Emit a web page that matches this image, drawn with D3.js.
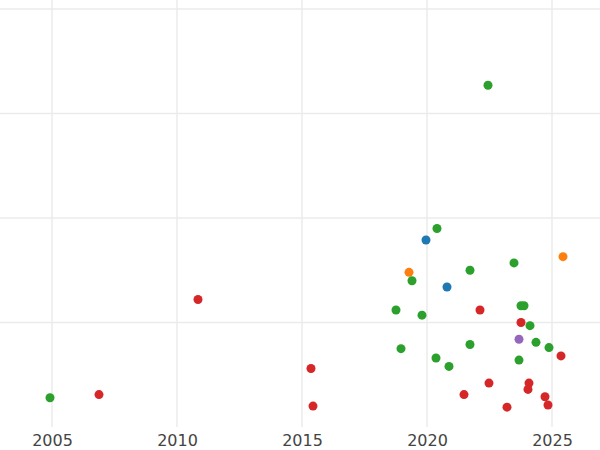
<!DOCTYPE html>
<html><head><meta charset="utf-8">
<script src="https://cdn.jsdelivr.net/npm/d3@7"></script>
<style>body{margin:0;background:#fff}</style></head>
<body><svg id="c" width="600" height="450"></svg>
<script>
const years = [2004.92,2006.88,2010.84,2015.36,2015.44,2018.76,2018.96,2019.28,2019.4,2019.8,2019.96,2020.4,2020.36,2020.8,2020.88,2021.72,2021.72,2021.48,2022.12,2022.44,2022.48,2023.2,2023.48,2023.76,2023.88,2023.76,2023.68,2023.68,2024.12,2024.08,2024.04,2024.36,2024.72,2024.84,2024.88,2025.44,2025.36];
const values = [0.28,0.31,1.22,0.56,0.20,1.12,0.75,1.48,1.40,1.07,1.79,1.90,0.66,1.34,0.58,1.50,0.79,0.31,1.12,3.27,0.42,0.19,1.57,1.16,1.16,1.00,0.84,0.64,0.97,0.42,0.36,0.81,0.29,0.21,0.76,1.63,0.68];
const groups = ["g","r","r","r","r","g","g","o","g","g","b","g","g","b","g","g","g","r","r","g","r","r","g","g","g","r","p","g","g","r","r","g","r","r","g","o","r"];
const xTicks = [2005,2010,2015,2020,2025];
const yGrid = [1,2,3,4];
const palette = {b:"#1f77b4",o:"#ff7f0e",g:"#2ca02c",r:"#d62728",p:"#9467bd"};

const svg = d3.select("#c");
const x = d3.scaleLinear().domain([2002.92,2026.92]).range([0,600]);
const y = d3.scaleLinear().domain([0,4]).range([427,9]);

svg.append("g").selectAll("line").data(yGrid).join("line")
  .attr("x1",0).attr("x2",600).attr("y1",d=>y(d)).attr("y2",d=>y(d))
  .attr("stroke","#ebebeb").attr("stroke-width",1.5);
svg.append("g").selectAll("line").data(xTicks).join("line")
  .attr("x1",d=>x(d)).attr("x2",d=>x(d)).attr("y1",0).attr("y2",427)
  .attr("stroke","#ebebeb").attr("stroke-width",1.5);

const ax = svg.append("g").attr("transform","translate(0,427)")
  .call(d3.axisBottom(x).tickValues(xTicks).tickFormat(d3.format("d")).tickSize(0).tickPadding(8));
ax.select(".domain").remove();
ax.selectAll("text").attr("fill","#444").attr("font-size",16).attr("font-family","DejaVu Sans");

svg.append("g").selectAll("circle").data(years.map((d,i)=>i)).join("circle")
  .attr("cx",i=>x(years[i])).attr("cy",i=>y(values[i])).attr("r",4.5)
  .attr("fill",i=>palette[groups[i]]);
</script></body></html>
